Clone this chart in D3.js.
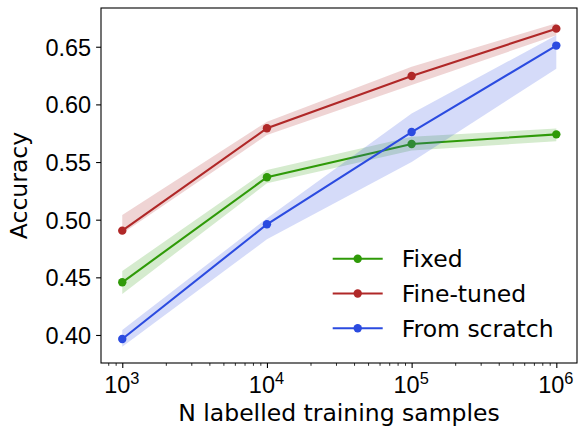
<!DOCTYPE html>
<html><head><meta charset="utf-8">
<script src="https://cdn.jsdelivr.net/npm/d3@7"></script>
<style>body{margin:0;background:#fff}svg{display:block;font-family:"DejaVu Sans",sans-serif}</style>
</head><body><svg id="c" width="578" height="426"></svg>
<script>
const samples = [1e3, 1e4, 1e5, 1e6];
const seriesNames = ["Fixed", "Fine-tuned", "From scratch"];
const seriesColors = ["#2f9a08", "#b02828", "#2b4be0"];
const fixedMean = [0.4457, 0.5368, 0.5657, 0.5740];
const fixedLow  = [0.4356, 0.5316, 0.5600, 0.5680];
const fixedHigh = [0.4555, 0.5430, 0.5720, 0.5790];
const fineMean = [0.4905, 0.5793, 0.6246, 0.6657];
const fineLow  = [0.4880, 0.5735, 0.6168, 0.6600];
const fineHigh = [0.5040, 0.5850, 0.6327, 0.6703];
const scratchMean = [0.3965, 0.4960, 0.5760, 0.6510];
const scratchLow  = [0.3899, 0.4830, 0.5500, 0.6310];
const scratchHigh = [0.4043, 0.5012, 0.5920, 0.6600];
const yTicks = [0.40, 0.45, 0.50, 0.55, 0.60, 0.65];
const xTicks = [1e3, 1e4, 1e5, 1e6];
const xLabel = "N labelled training samples";
const yLabel = "Accuracy";

const series = [
  {name: seriesNames[0], color: seriesColors[0], mean: fixedMean, low: fixedLow, high: fixedHigh},
  {name: seriesNames[1], color: seriesColors[1], mean: fineMean, low: fineLow, high: fineHigh},
  {name: seriesNames[2], color: seriesColors[2], mean: scratchMean, low: scratchLow, high: scratchHigh}
];

const FS = "23.5px";
const L = 101, R = 577, T = 8, B = 363;
const svg = d3.select("#c");
const x = d3.scaleLog().domain([Math.pow(10, 2.853), Math.pow(10, 6.143)]).range([L, R]);
const y = d3.scaleLinear().domain([0.3757, 0.6836]).range([B, T]);

// bands and lines
series.forEach(s => {
  const pts = samples.map((v, i) => ({x: v, m: s.mean[i], lo: s.low[i], hi: s.high[i]}));
  svg.append("path").datum(pts)
    .attr("d", d3.area().x(d => x(d.x)).y0(d => y(d.lo)).y1(d => y(d.hi)))
    .attr("fill", s.color).attr("fill-opacity", 0.2);
  svg.append("path").datum(pts)
    .attr("d", d3.line().x(d => x(d.x)).y(d => y(d.m)))
    .attr("fill", "none").attr("stroke", s.color).attr("stroke-width", 2.08);
  svg.selectAll(null).data(pts).enter().append("circle")
    .attr("cx", d => x(d.x)).attr("cy", d => y(d.m)).attr("r", 4.2).attr("fill", s.color);
});

// axes
const minor = [];
for (let e = 2; e <= 6; e++) for (let k = 2; k <= 9; k++) { const v = k * Math.pow(10, e); if (v > x.domain()[0] && v < x.domain()[1]) minor.push(v); }
svg.append("g").attr("transform", `translate(0,${B})`)
  .call(d3.axisBottom(x).tickValues(minor).tickFormat("").tickSize(2.8).tickSizeOuter(0))
  .call(g => g.select(".domain").remove())
  .call(g => g.selectAll("line").attr("stroke", "#000").attr("stroke-width", 0.83));
const xa = svg.append("g").attr("transform", `translate(0,${B})`)
  .call(d3.axisBottom(x).tickValues(xTicks).tickFormat("").tickSize(4.9).tickSizeOuter(0));
xa.select(".domain").remove();
xa.selectAll("line").attr("stroke", "#000").attr("stroke-width", 1.1);
xa.selectAll(".tick").each(function(d) {
  const t = d3.select(this).append("text").attr("fill", "#000").attr("y", 29.5).attr("x", -1)
    .attr("text-anchor", "middle").style("font-size", FS);
  t.append("tspan").text("10");
  t.append("tspan").attr("dy", -8.5).style("font-size", "16.4px").text(String(Math.round(Math.log10(d))));
});

const ya = svg.append("g").attr("transform", `translate(${L},0)`)
  .call(d3.axisLeft(y).tickValues(yTicks).tickFormat(d3.format(".2f")).tickSize(4.9).tickPadding(4.9).tickSizeOuter(0));
ya.select(".domain").remove();
ya.selectAll("line").attr("stroke", "#000").attr("stroke-width", 1.1);
ya.selectAll("text").attr("fill", "#000").style("font-size", FS).attr("dy", "0.36em");

// frame
svg.append("rect").attr("x", L).attr("y", T).attr("width", R - L).attr("height", B - T)
  .attr("fill", "none").attr("stroke", "#000").attr("stroke-width", 1.1);

// labels
svg.append("text").attr("x", (L + R) / 2).attr("y", 421).attr("text-anchor", "middle")
  .style("font-size", FS).text(xLabel);
svg.append("text").attr("transform", `translate(27,${(T + B) / 2}) rotate(-90)`).attr("text-anchor", "middle")
  .style("font-size", FS).text(yLabel);

// legend
const lg = svg.append("g");
series.forEach((s, i) => {
  const yy = 258.7 + i * 34.8;
  lg.append("line").attr("x1", 332.7).attr("x2", 382.7).attr("y1", yy).attr("y2", yy)
    .attr("stroke", s.color).attr("stroke-width", 2.08);
  lg.append("circle").attr("cx", 357.7).attr("cy", yy).attr("r", 4.2).attr("fill", s.color);
  lg.append("text").attr("x", 401.7).attr("y", yy).attr("dy", "0.36em")
    .style("font-size", FS).text(s.name);
});
</script></body></html>
